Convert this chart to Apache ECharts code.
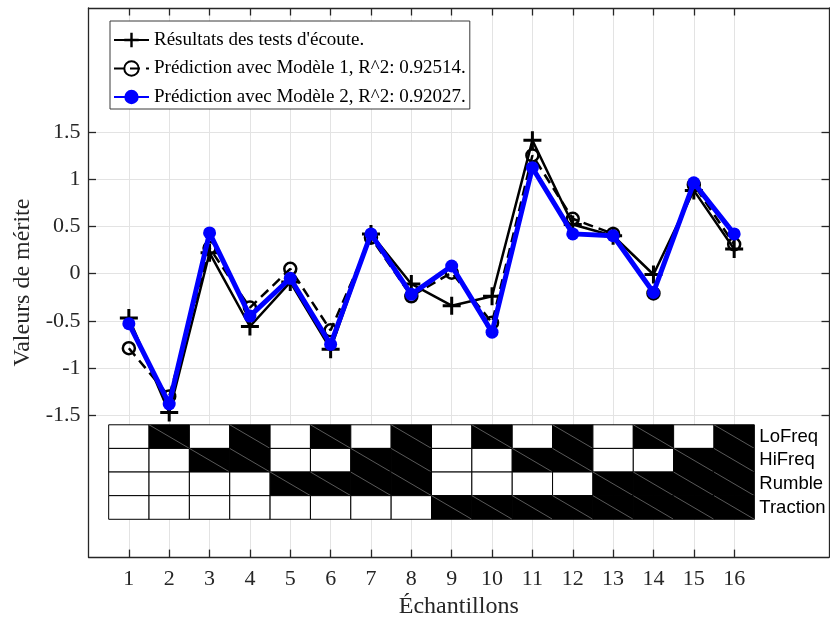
<!DOCTYPE html>
<html>
<head>
<meta charset="utf-8">
<script src="https://cdn.jsdelivr.net/npm/echarts@6/dist/echarts.min.js"></script>
<style>
  html, body { margin: 0; padding: 0; background: #ffffff; }
  #chart { width: 830px; height: 624px; }
</style>
</head>
<body>
<div id="chart"></div>
<script>
// Sample indices (x axis)
const samples = [1, 2, 3, 4, 5, 6, 7, 8, 9, 10, 11, 12, 13, 14, 15, 16];

// Merit values: listening test results and the two model predictions
const listeningResults = [-0.47, -1.47, 0.22, -0.56, -0.09, -0.80, 0.42, -0.11, -0.34, -0.24, 1.41, 0.52, 0.40, -0.01, 0.88, 0.26];
const model1Prediction = [-0.79, -1.30, 0.27, -0.36, 0.05, -0.60, 0.38, -0.24, 0.01, -0.52, 1.25, 0.58, 0.42, -0.21, 0.94, 0.31];
const model2Prediction = [-0.53, -1.38, 0.43, -0.45, -0.05, -0.75, 0.42, -0.22, 0.08, -0.62, 1.12, 0.42, 0.40, -0.20, 0.96, 0.42];

const seriesNames = [
  "Résultats des tests d'écoute.",
  'Prédiction avec Modèle 1, R^2: 0.92514.',
  'Prédiction avec Modèle 2, R^2: 0.92027.'
];

// Y tick values
const yTicks = [-1.5, -1, -0.5, 0, 0.5, 1, 1.5];

// Factor levels of each sample (1 = active, drawn black)
const factorNames = ['LoFreq', 'HiFreq', 'Rumble', 'Traction'];
const loFreq   = [0, 1, 0, 1, 0, 1, 0, 1, 0, 1, 0, 1, 0, 1, 0, 1];
const hiFreq   = [0, 0, 1, 1, 0, 0, 1, 1, 0, 0, 1, 1, 0, 0, 1, 1];
const rumble   = [0, 0, 0, 0, 1, 1, 1, 1, 0, 0, 0, 0, 1, 1, 1, 1];
const traction = [0, 0, 0, 0, 0, 0, 0, 0, 1, 1, 1, 1, 1, 1, 1, 1];

// ---- layout / style constants ----
const X_MIN = 0, X_MAX = 18.35;
const Y_MIN = -3, Y_MAX = 2.81;
const TABLE_TOP = -1.6;   // top edge of the factor table (data units)
const ROW_H = 0.25;       // row height of the factor table (data units)
const AXIS_COLOR = '#262626';
const SERIF = '"Liberation Serif", "Times New Roman", serif';
const SANS = '"Liberation Sans", Arial, sans-serif';

const factorRows = [loFreq, hiFreq, rumble, traction];
const cellData = [];
factorRows.forEach((row, r) => {
  row.forEach((v, i) => cellData.push([samples[i], r, v]));
});
const labelData = factorNames.map((name, r) => [samples[samples.length - 1] + 0.5, r]);

// One table cell: white when the factor is off, black with a thin diagonal when on
function renderCell(params, api) {
  const s = api.value(0), r = api.value(1), on = api.value(2);
  const top = TABLE_TOP - r * ROW_H;
  const p0 = api.coord([s - 0.5, top]);
  const p1 = api.coord([s + 0.5, top - ROW_H]);
  const children = [{
    type: 'rect',
    shape: { x: p0[0], y: p0[1], width: p1[0] - p0[0], height: p1[1] - p0[1] },
    style: { fill: on ? '#000000' : '#ffffff', stroke: '#000000', lineWidth: 1 }
  }];
  if (on) {
    children.push({
      type: 'line',
      shape: { x1: p0[0], y1: p0[1], x2: p1[0], y2: p1[1] },
      style: { stroke: '#707070', lineWidth: 0.8 }
    });
  }
  return { type: 'group', children };
}

// Factor name to the right of each table row
function renderRowLabel(params, api) {
  const r = api.value(1);
  const p = api.coord([api.value(0), TABLE_TOP - (r + 0.5) * ROW_H]);
  return {
    type: 'text',
    x: p[0] + 5,
    y: p[1],
    style: {
      text: factorNames[r],
      fill: '#000000',
      font: '18.5px ' + SANS,
      align: 'left',
      verticalAlign: 'middle'
    }
  };
}

const plusPath = 'path://M5,0h2v5h5v2h-5v5h-2v-5h-5v-2h5z';

const chart = echarts.init(document.getElementById('chart'), null, { renderer: 'canvas' });

const axisLine = { show: true, onZero: false, lineStyle: { color: AXIS_COLOR, width: 1.3 } };
const tickStyle = { color: AXIS_COLOR, width: 1.3 };

chart.setOption({
  animation: false,
  backgroundColor: '#ffffff',
  grid: { left: 88.5, top: 8, width: 740.5, height: 554, containLabel: false },
  legend: {
    orient: 'vertical',
    left: 110,
    top: 21,
    padding: [9, 4, 2, 3],
    itemGap: 8.5,
    itemWidth: 35,
    itemHeight: 18,
    backgroundColor: '#ffffff',
    borderColor: '#3a3a3a',
    borderWidth: 1,
    textStyle: { fontFamily: SERIF, fontSize: 19, color: '#000000', lineHeight: 20 },
    data: seriesNames
  },
  xAxis: [
    {
      type: 'value', min: X_MIN, max: X_MAX, position: 'bottom',
      axisLine: axisLine,
      axisTick: { show: true, inside: true, length: 7.5, customValues: samples, lineStyle: tickStyle },
      axisLabel: { show: true, customValues: samples, margin: 11, color: AXIS_COLOR, fontFamily: SERIF, fontSize: 22 },
      splitLine: { show: true, lineStyle: { color: '#e3e3e3', width: 1 } },
      name: 'Échantillons', nameLocation: 'middle', nameGap: 34,
      nameTextStyle: { fontFamily: SERIF, fontSize: 24, color: AXIS_COLOR }
    },
    {
      type: 'value', min: X_MIN, max: X_MAX, position: 'top',
      axisLine: axisLine,
      axisTick: { show: true, inside: true, length: 7.5, customValues: samples, lineStyle: tickStyle },
      axisLabel: { show: false },
      splitLine: { show: false }
    }
  ],
  yAxis: [
    {
      type: 'value', min: Y_MIN, max: Y_MAX, position: 'left',
      axisLine: axisLine,
      axisTick: { show: true, inside: true, length: 7.5, customValues: yTicks, lineStyle: tickStyle },
      axisLabel: { show: true, customValues: yTicks, margin: 8, color: AXIS_COLOR, fontFamily: SERIF, fontSize: 22 },
      splitLine: { show: true, lineStyle: { color: '#e3e3e3', width: 1 } },
      name: 'Valeurs de mérite', nameLocation: 'middle', nameGap: 50,
      nameTextStyle: { fontFamily: SERIF, fontSize: 24, color: AXIS_COLOR }
    },
    {
      type: 'value', min: Y_MIN, max: Y_MAX, position: 'right',
      axisLine: axisLine,
      axisTick: { show: true, inside: true, length: 7.5, customValues: yTicks, lineStyle: tickStyle },
      axisLabel: { show: false },
      splitLine: { show: false }
    }
  ],
  series: [
    {
      type: 'custom',
      name: 'factors',
      xAxisIndex: 0, yAxisIndex: 0,
      renderItem: renderCell,
      data: cellData,
      silent: true,
      z: 1
    },
    {
      type: 'custom',
      name: 'factorLabels',
      xAxisIndex: 0, yAxisIndex: 0,
      renderItem: renderRowLabel,
      data: labelData,
      silent: true,
      clip: false,
      z: 1
    },
    {
      type: 'line',
      name: seriesNames[0],
      data: samples.map((s, i) => [s, listeningResults[i]]),
      symbol: plusPath,
      symbolSize: 18,
      showAllSymbol: true,
      lineStyle: { color: '#000000', width: 2.5 },
      itemStyle: { color: '#000000' },
      z: 2
    },
    {
      type: 'line',
      name: seriesNames[1],
      data: samples.map((s, i) => [s, model1Prediction[i]]),
      symbol: 'circle',
      symbolSize: 12,
      showAllSymbol: true,
      lineStyle: { color: '#000000', width: 2.5, type: [10, 6] },
      itemStyle: { color: 'rgba(0,0,0,0)', borderColor: '#000000', borderWidth: 2.5 },
      z: 3
    },
    {
      type: 'line',
      name: seriesNames[2],
      data: samples.map((s, i) => [s, model2Prediction[i]]),
      symbol: 'circle',
      symbolSize: 13,
      showAllSymbol: true,
      lineStyle: { color: '#0000ff', width: 5 },
      itemStyle: { color: '#0000ff' },
      z: 4
    }
  ]
});
</script>
</body>
</html>
